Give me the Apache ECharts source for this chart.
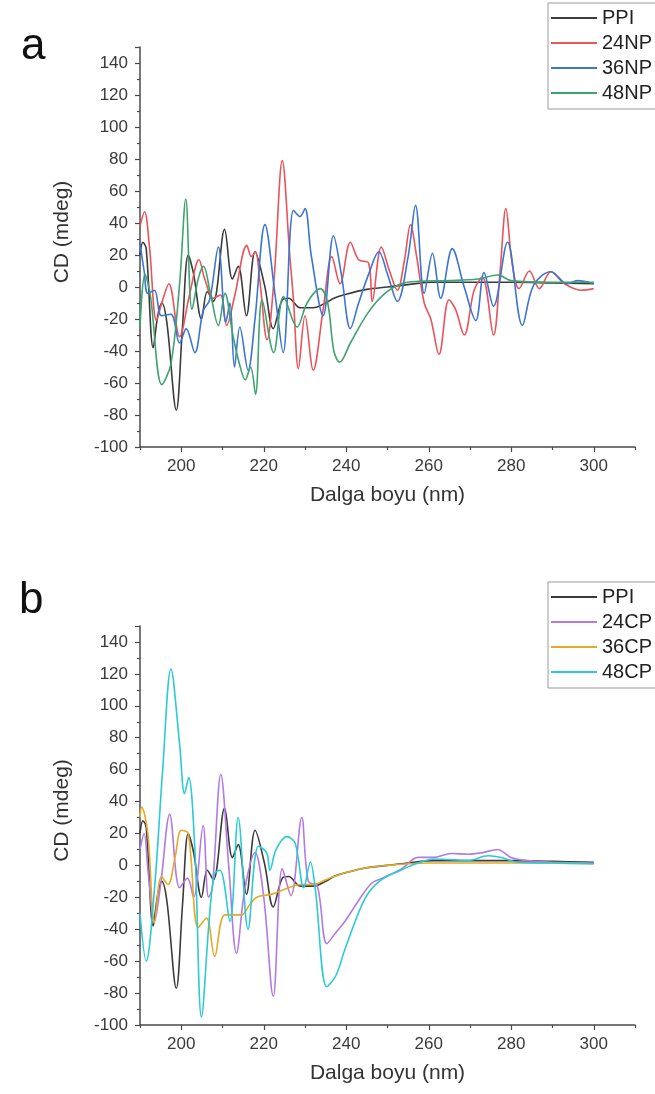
<!DOCTYPE html>
<html>
<head>
<meta charset="utf-8">
<script src="https://cdn.jsdelivr.net/npm/echarts@6/dist/echarts.min.js"></script>
<style>
  html, body { margin: 0; padding: 0; background: #fff; }
  #chart { width: 655px; height: 1094px; }
</style>
</head>
<body>
<div id="chart"></div>
<script>
// ---------- Data (wavelength nm, CD mdeg) ----------
const xMajorTicks = [200, 220, 240, 260, 280, 300];
const xMinorTicks = [190, 210, 230, 250, 270, 290, 310];

const PPI = [[190, 20], [190.7, 28], [191.5, 24], [193.2, -38], [194.3, -18], [195.3, -10], [196.5, -22],
  [198.8, -77], [200.3, -25], [201.7, 20], [203, 8], [204.9, -20], [206.3, -3], [207.8, -9], [210.5, 36],
  [212.4, 5], [213.8, 13], [215.8, -18], [217.9, 22], [220.2, 1], [222.3, -26], [224.5, -8], [226, -7],
  [228.9, -13], [232, -13], [235, -10], [237, -7], [240, -4.5], [245, -1.5], [250, 0], [255, 1.5],
  [261, 3], [270, 3], [280, 3], [290, 2.5], [300, 2]];

const NP24 = [[190, 38], [191.1, 47], [192.3, 25], [194, -21], [195.5, -8], [197, 2], [199.6, -31], [202, -5],
  [204.3, 17], [205.7, 5], [207.8, -7], [209.5, -5], [211, -24], [213, -5], [215.9, 26], [217, 19], [218, 22],
  [219, 5], [220.8, -33], [222.5, 5], [224.5, 79], [226.3, 20], [227.2, -8], [228.4, -51], [230, -18],
  [232, -52], [234.4, -14], [236.5, 19], [238.5, 2], [241, 28], [243, 17], [245.4, 15], [246.3, -9],
  [248.5, 25], [250.5, 10], [252.4, -2], [254, 15], [255.6, 39], [257, 20], [258.9, -10], [260.5, -20],
  [262.5, -42], [264.9, -8], [266.5, -14], [268.6, -30], [271, -2], [273, 6], [275.7, -30], [277.3, 10],
  [278.7, 49], [280.2, 15], [281.9, -1], [284.4, 10], [286.8, -1], [289.6, 9.5], [292.9, 2], [296.9, -2],
  [300, -1]];

const NP36 = [[190, 27], [191, 10], [191.9, -4], [193.5, -2], [195.2, -18], [197.5, -17], [199.6, -35],
  [201.2, -26], [203.3, -41], [205.3, -15], [206.9, -8], [209, 25], [210.8, -22], [211.8, -10], [212.9, -50],
  [214.2, -25], [216.2, -52], [217.8, -22], [220.3, 39], [222.8, -6], [224.7, -41], [227.2, 48], [228.8, 44],
  [230, 49], [231.5, 20], [234.4, -18], [236.9, 32], [238.9, 6.5], [241, -26], [243, -10], [245.5, 8.5],
  [247.9, 22], [250, 8], [252.4, -9], [255, 19], [256.8, 51], [258.9, -4], [260.9, 21], [262.9, -7],
  [265.7, 24], [268.6, 0], [271.4, -21], [273.4, 9], [275.7, -12], [279.1, 28], [282.7, -24], [285.4, 1],
  [289.6, 9.5], [293.6, 2], [296, 4], [300, 2]];

const NP48 = [[190, -25], [191.2, 8], [192.5, -5], [195.3, -61], [197.5, -48], [199.6, 2], [201.1, 55],
  [202.6, -14], [204.2, 6], [205.4, 13], [207, -3], [209, -24], [210.6, -4], [212.5, -30], [214.3, -50],
  [215.5, -58], [216.8, -50], [218, -67], [219.6, -8], [222.4, -41], [224.8, -6], [228.1, -25], [230.5, -10],
  [233.7, -1], [235.5, -10], [237, -40], [238.4, -47], [241, -35], [245.3, -16], [249.4, -4], [253.4, 2],
  [257.5, 3.5], [265, 4], [272, 5], [276.7, 7.5], [280, 4], [290, 3], [300, 3]];

const CP24 = [[190, 10], [191, 20], [192, -5], [193.5, -35], [195, -12], [197.2, 32], [199.6, -14],
  [201.5, -8], [203, -20], [205.3, 25], [206.6, -20], [207.5, -15], [209.6, 57], [211.5, 0], [213.4, -55],
  [215.4, -15], [217.9, 8], [220, -20], [222.3, -82], [224.5, -2], [226.6, -19], [229.2, 30], [230.8, -10],
  [233, -13], [235.3, -49], [237.5, -42], [239.7, -35], [243, -22], [246.2, -11], [248.7, -8], [253.5, -2],
  [257.4, 5], [261, 5], [265.5, 7.5], [269.5, 7], [273, 8], [276.7, 10], [279.9, 5], [284, 3], [290, 2],
  [300, 1.5]];

const CP36 = [[190, 30], [190.4, 36.5], [191.9, 20], [193.5, -36], [195.2, -7], [196.8, -12], [198.5, 5],
  [200, 22], [201.7, 20], [204.1, -39], [206.1, -33], [208.1, -57], [210.6, -31], [214.6, -31], [216.5, -25],
  [218.3, -20], [222, -18], [226, -14], [229, -12], [232, -12], [235, -9], [237, -7], [240, -4.5],
  [245, -1.5], [250, 0], [255, 1], [260, 1.5], [270, 1.5], [280, 1.5], [290, 1.5], [300, 1]];

const CP48 = [[190, -30], [191.5, -60], [193.5, -15], [195.5, 60], [197.5, 123], [199.6, 76], [200.8, 45],
  [201.8, 55], [203.3, 10], [204.9, -95], [206.9, -30], [208.1, -5], [209.4, -3], [211.8, -35], [213.8, 30],
  [216.2, -40], [218.7, 12], [220.7, 8], [221.5, -3], [223, 10], [225.6, 18], [227.6, 14], [229.7, -14],
  [231.3, 2], [232.5, -15], [235.3, -76], [237.5, -69], [239.9, -51], [244.5, -21], [248, -10], [253.2, -3],
  [257.4, 1.5], [261.5, 4], [269.5, 3], [274.4, 6], [277.6, 5], [281.5, 2], [290, 1.5], [300, 1]];

// ---------- Chart ----------
const FONT = 'Liberation Sans, Arial, sans-serif';
const AXIS_COLOR = '#4a4a4a';
const LABEL_COLOR = '#3a3a3a';
const grids = [
  { left: 140, top: 47, width: 495, height: 400 },
  { left: 140, top: 626, width: 495, height: 399 }
];

function mainX(gi) {
  return {
    type: 'value', gridIndex: gi, min: 190, max: 310, position: 'bottom',
    name: 'Dalga boyu (nm)', nameLocation: 'middle', nameGap: 38,
    nameTextStyle: { fontFamily: FONT, fontSize: 21, color: '#333' },
    axisLine: { show: true, onZero: false, lineStyle: { color: AXIS_COLOR, width: 1.5 } },
    axisTick: { show: true, customValues: xMajorTicks, length: 5, lineStyle: { color: AXIS_COLOR, width: 1.2 } },
    axisLabel: { customValues: xMajorTicks, fontFamily: FONT, fontSize: 17, color: LABEL_COLOR, margin: 11 },
    splitLine: { show: false }
  };
}
function minorX(gi) {
  return {
    type: 'value', gridIndex: gi, min: 190, max: 310, position: 'bottom',
    axisLine: { show: false, onZero: false },
    axisTick: { show: true, customValues: xMinorTicks, length: 3, lineStyle: { color: AXIS_COLOR, width: 1.2 } },
    axisLabel: { show: false },
    splitLine: { show: false }
  };
}
function mainY(gi) {
  return {
    type: 'value', gridIndex: gi, min: -100, max: 150, interval: 20,
    name: 'CD (mdeg)', nameLocation: 'middle', nameGap: 67, nameRotate: 90,
    nameTextStyle: { fontFamily: FONT, fontSize: 21, color: '#333', padding: [0, 0, 0, 30] },
    axisLine: { show: true, onZero: false, lineStyle: { color: AXIS_COLOR, width: 1.5 } },
    axisTick: { show: true, length: 5, lineStyle: { color: AXIS_COLOR, width: 1.2 } },
    minorTick: { show: true, splitNumber: 2, length: 3, lineStyle: { color: AXIS_COLOR, width: 1.2 } },
    axisLabel: { showMaxLabel: false, fontFamily: FONT, fontSize: 17, color: LABEL_COLOR, margin: 12 },
    splitLine: { show: false }
  };
}
function line(name, data, color, gi) {
  return {
    name: name, type: 'line', data: data, xAxisIndex: gi * 2, yAxisIndex: gi,
    smooth: 0.35, symbol: 'none', animation: false,
    lineStyle: { color: color, width: 1.6 }, itemStyle: { color: color }
  };
}
function legend(names, top) {
  return {
    data: names, orient: 'vertical', left: 548, top: top,
    icon: 'rect', itemWidth: 46, itemHeight: 2, itemGap: 5,
    padding: [5, 40, 6, 3],
    borderColor: '#9a9a9a', borderWidth: 1,
    textStyle: { fontFamily: FONT, fontSize: 20, color: '#222', lineHeight: 20 }
  };
}

const C = { ppi: '#3b3b3b', np24: '#e8545a', np36: '#3c74d4', np48: '#3ea36e',
            cp24: '#b27ae4', cp36: '#e2ab2a', cp48: '#2ccbd3' };

const option = {
  backgroundColor: '#fff',
  animation: false,
  title: [
    { text: 'a', left: 16, top: 20, textStyle: { fontFamily: FONT, fontSize: 44, fontWeight: 'normal', color: '#111' } },
    { text: 'b', left: 14, top: 574, textStyle: { fontFamily: FONT, fontSize: 44, fontWeight: 'normal', color: '#111' } }
  ],
  legend: [
    legend(['PPI', '24NP', '36NP', '48NP'], 3),
    legend(['PPI ', '24CP', '36CP', '48CP'], 582)
  ],
  grid: grids,
  xAxis: [mainX(0), minorX(0), mainX(1), minorX(1)],
  yAxis: [mainY(0), mainY(1)],
  series: [
    line('PPI', PPI, C.ppi, 0),
    line('24NP', NP24, C.np24, 0),
    line('36NP', NP36, C.np36, 0),
    line('48NP', NP48, C.np48, 0),
    line('PPI ', PPI, C.ppi, 1),
    line('24CP', CP24, C.cp24, 1),
    line('36CP', CP36, C.cp36, 1),
    line('48CP', CP48, C.cp48, 1)
  ]
};

const chart = echarts.init(document.getElementById('chart'), null, { renderer: 'canvas' });
chart.setOption(option);
</script>
</body>
</html>
